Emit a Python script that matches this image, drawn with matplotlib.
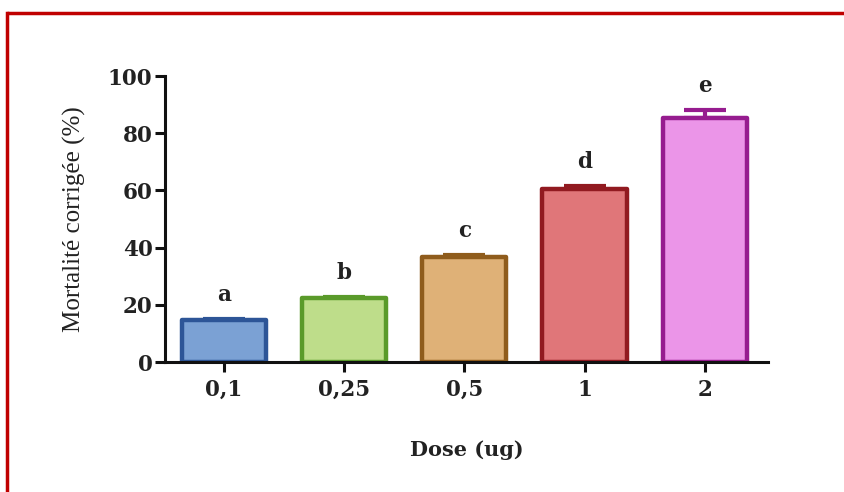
import matplotlib
matplotlib.use('Agg')
import matplotlib.pyplot as plt
from matplotlib.lines import Line2D
import numpy as np

# Data
doses = ['0,1', '0,25', '0,5', '1', '2']
mortality = [14.7, 22.4, 36.7, 60.5, 85.3]
sem = [0.5, 0.5, 0.7, 1.0, 2.7]
letters = ['a', 'b', 'c', 'd', 'e']

fill_colors = ['#7BA1D4', '#BEDD8A', '#DFB177', '#E07679', '#EB95E8']
edge_colors = ['#2D5597', '#5A9A2A', '#8F5C1C', '#911A20', '#961C8F']

fig = plt.figure(figsize=(8.44, 4.92), dpi=100)
ax = fig.add_axes([0.1955, 0.2642, 0.715, 0.5813])

x = np.arange(len(doses))
for i in range(len(doses)):
    ax.bar(x[i], mortality[i], width=0.7, color=fill_colors[i],
           edgecolor=edge_colors[i], linewidth=3.2, joinstyle='round',
           zorder=2)
    ax.errorbar(x[i], mortality[i], yerr=[[0], [sem[i]]], fmt='none',
                ecolor=edge_colors[i], elinewidth=3, capsize=15,
                capthick=3, zorder=1)
    ax.text(x[i], mortality[i] + sem[i] + 4.5, letters[i], ha='center',
            va='bottom', fontsize=15.5, fontweight='bold', family='DejaVu Serif',
            color='#222222')

ax.set_xlim(-0.49, 4.53)
ax.set_ylim(0, 100)
ax.set_yticks([0, 20, 40, 60, 80, 100])
ax.set_xticks(x)
ax.set_xticklabels(doses)

for s in ['top', 'right']:
    ax.spines[s].set_visible(False)
for s in ['left', 'bottom']:
    ax.spines[s].set_linewidth(2.2)
    ax.spines[s].set_color('#111111')

ax.tick_params(axis='both', width=2.2, length=7, color='#111111')
ax.tick_params(axis='y', pad=2)
ax.tick_params(axis='x', pad=5)
for lab in ax.get_xticklabels() + ax.get_yticklabels():
    lab.set_family('DejaVu Serif')
    lab.set_fontweight('bold')
    lab.set_fontsize(15.5)
    lab.set_color('#222222')

ax.set_xlabel('Dose (ug)', family='DejaVu Serif', fontweight='bold',
              fontsize=15, labelpad=28, color='#222222')
ax.set_ylabel('Mortalité corrigée (%)', family='Liberation Serif',
              fontsize=18, labelpad=16, color='#222222')

# red frame
fig.add_artist(Line2D([0.0085, 1.0], [0.974, 0.974], color='#C00000', lw=2.5,
                      solid_capstyle='butt', transform=fig.transFigure))
fig.add_artist(Line2D([0.0085, 0.0085], [0.0, 0.974], color='#C00000', lw=2.5,
                      solid_capstyle='projecting', transform=fig.transFigure))

fig.savefig('out.png', dpi=100)
